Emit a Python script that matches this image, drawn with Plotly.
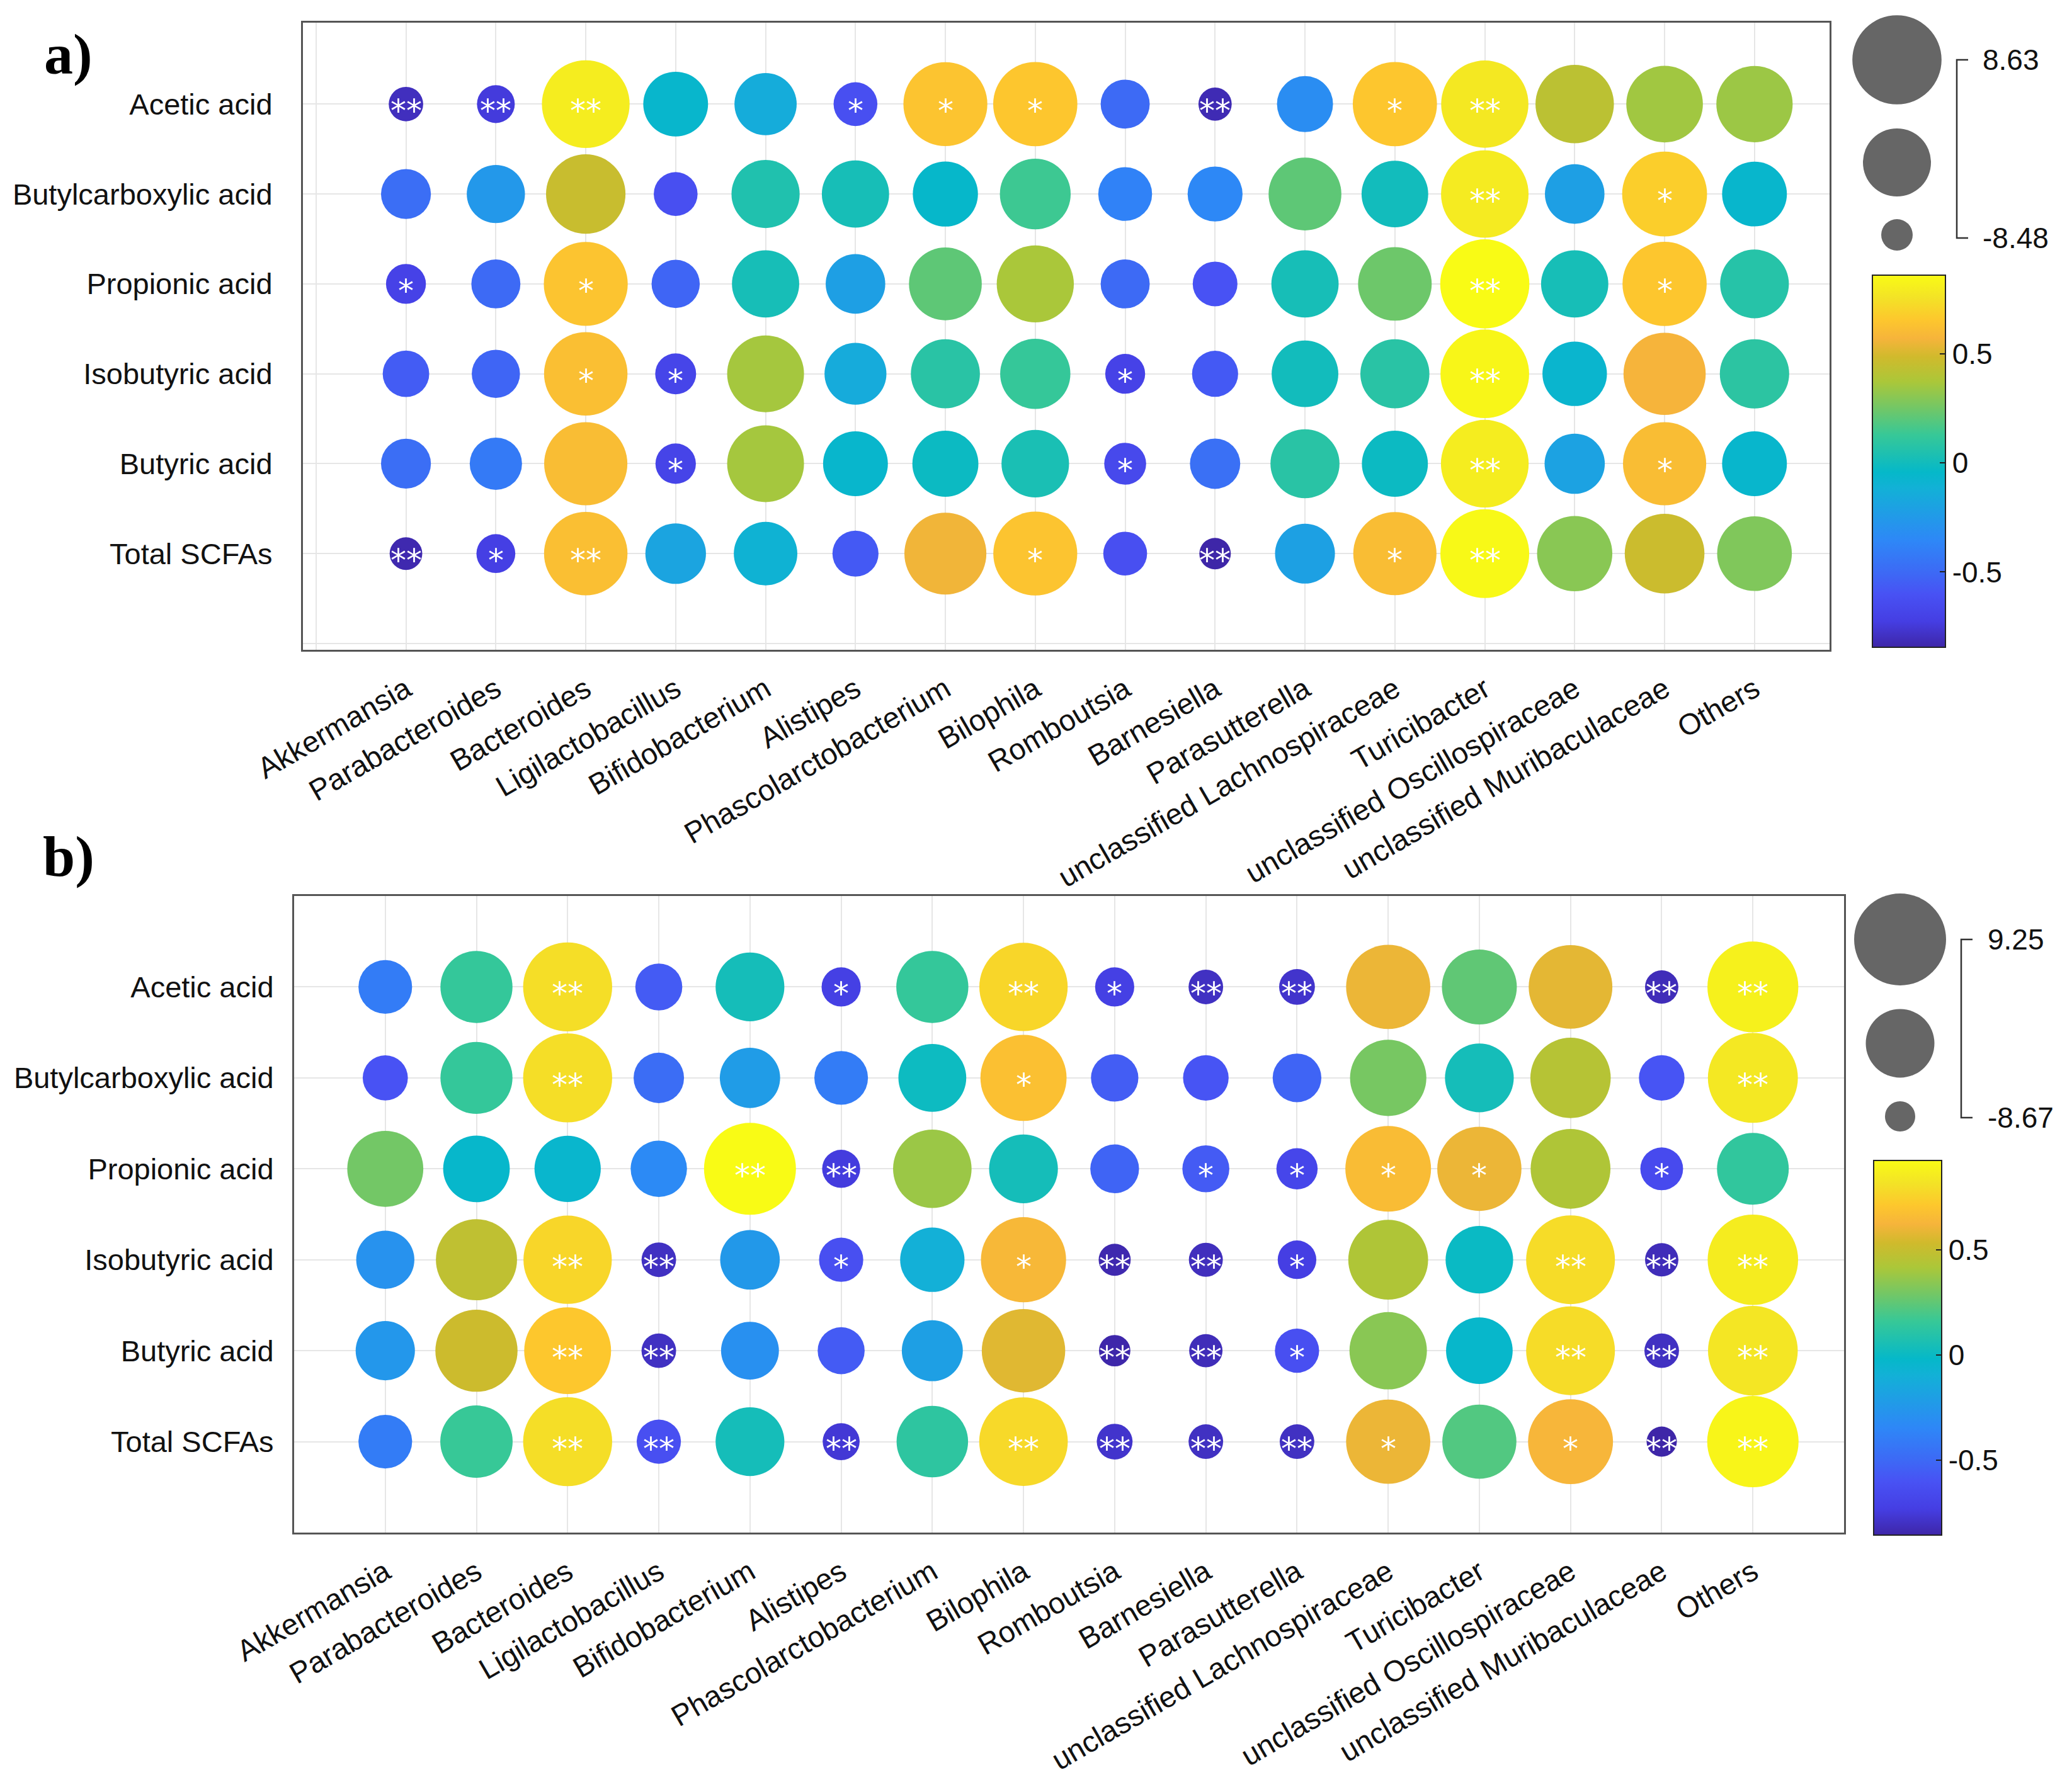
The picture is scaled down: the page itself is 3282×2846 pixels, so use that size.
import math
import plotly.graph_objects as go

W, H = 3282, 2846          # reference picture size
OFF = 8                    # default page margin of the html body
FW, FH = W - 2 * OFF, H - 2 * OFF

genera = ["Akkermansia", "Parabacteroides", "Bacteroides", "Ligilactobacillus",
          "Bifidobacterium", "Alistipes", "Phascolarctobacterium", "Bilophila",
          "Romboutsia", "Barnesiella", "Parasutterella", "unclassified Lachnospiraceae",
          "Turicibacter", "unclassified Oscillospiraceae", "unclassified Muribaculaceae",
          "Others"]
acids = ["Acetic acid", "Butylcarboxylic acid", "Propionic acid",
         "Isobutyric acid", "Butyric acid", "Total SCFAs"]

# ---- panel a: correlation coefficients (rows = acids, cols = genera)
corr_a = [
    [-0.80, -0.74, 0.80, -0.06, -0.14, -0.62, 0.64, 0.65, -0.50, -0.82, -0.32, 0.65, 0.78, 0.42, 0.35, 0.34],
    [-0.48, -0.26, 0.46, -0.62, 0.05, 0.02, -0.05, 0.14, -0.38, -0.35, 0.21, 0.00, 0.79, -0.22, 0.68, -0.06],
    [-0.70, -0.50, 0.64, -0.52, 0.02, -0.22, 0.21, 0.37, -0.50, -0.60, 0.02, 0.24, 0.863, 0.02, 0.65, 0.07],
    [-0.56, -0.52, 0.62, -0.68, 0.36, -0.15, 0.08, 0.12, -0.70, -0.57, 0.00, 0.08, 0.84, -0.07, 0.57, 0.09],
    [-0.48, -0.42, 0.61, -0.69, 0.36, -0.06, -0.02, 0.03, -0.66, -0.47, 0.08, -0.02, 0.80, -0.20, 0.61, -0.06],
    [-0.83, -0.72, 0.62, -0.19, -0.10, -0.57, 0.56, 0.64, -0.62, -0.848, -0.21, 0.61, 0.85, 0.30, 0.47, 0.28],
]
sig_a = [
    ["**", "**", "**", "", "", "*", "*", "*", "", "**", "", "*", "**", "", "", ""],
    ["", "", "", "", "", "", "", "", "", "", "", "", "**", "", "*", ""],
    ["*", "", "*", "", "", "", "", "", "", "", "", "", "**", "", "*", ""],
    ["", "", "*", "*", "", "", "", "", "*", "", "", "", "**", "", "", ""],
    ["", "", "", "*", "", "", "", "", "*", "", "", "", "**", "", "*", ""],
    ["**", "*", "**", "", "", "", "", "*", "", "**", "", "*", "**", "", "", ""],
]

# ---- panel b
corr_b = [
    [-0.40, 0.15, 0.80, -0.56, 0.04, -0.72, 0.15, 0.77, -0.72, -0.80, -0.78, 0.60, 0.25, 0.58, -0.82, 0.88],
    [-0.60, 0.15, 0.80, -0.48, -0.22, -0.40, 0.01, 0.68, -0.55, -0.59, -0.52, 0.30, 0.04, 0.45, -0.59, 0.84],
    [0.29, -0.03, -0.04, -0.33, 0.925, -0.74, 0.38, 0.04, -0.52, -0.56, -0.68, 0.66, 0.60, 0.43, -0.65, 0.14],
    [-0.28, 0.48, 0.77, -0.80, -0.24, -0.62, -0.10, 0.64, -0.84, -0.81, -0.73, 0.43, 0.00, 0.79, -0.82, 0.86],
    [-0.25, 0.52, 0.71, -0.80, -0.29, -0.56, -0.20, 0.57, -0.85, -0.82, -0.62, 0.34, -0.03, 0.79, -0.80, 0.83],
    [-0.40, 0.16, 0.80, -0.62, 0.04, -0.76, 0.13, 0.78, -0.78, -0.80, -0.80, 0.60, 0.22, 0.63, -0.867, 0.90],
]
sig_b = [
    ["", "", "**", "", "", "*", "", "**", "*", "**", "**", "", "", "", "**", "**"],
    ["", "", "**", "", "", "", "", "*", "", "", "", "", "", "", "", "**"],
    ["", "", "", "", "**", "**", "", "", "", "*", "*", "*", "*", "", "*", ""],
    ["", "", "**", "**", "", "*", "", "*", "**", "**", "*", "", "", "**", "**", "**"],
    ["", "", "**", "**", "", "", "", "", "**", "**", "*", "", "", "**", "**", "**"],
    ["", "", "**", "**", "", "**", "", "**", "**", "**", "**", "*", "", "*", "**", "**"],
]

size_labels_a = ["8.63", "-8.48"]
size_labels_b = ["9.25", "-8.67"]
cbar_ticks = [-0.5, 0, 0.5]

parula = [
    [0.000, "#3E26A8"], [0.070, "#453EE3"], [0.143, "#4852F4"], [0.200, "#3D69F5"],
    [0.286, "#2E87F7"], [0.429, "#12B1D6"], [0.470, "#05B8C9"], [0.571, "#37C897"],
    [0.640, "#70C768"], [0.714, "#ABC739"], [0.780, "#D0BA2C"], [0.830, "#F6B43B"],
    [0.880, "#FDC72D"], [0.940, "#F3E326"], [1.000, "#F9FB15"],
]

FONT = "Liberation Sans, Arial, sans-serif"
fig = go.Figure()
annotations = []
shapes = []


def fx(px):
    return (px - OFF) / FW


def fy(py):
    return 1 - (py - OFF) / FH


def diam(r, rmin, rmax, dmin, dmax):
    t = min(max((r - rmin) / (rmax - rmin), 0.0), 1.0)
    return math.sqrt(dmin ** 2 + (dmax ** 2 - dmin ** 2) * t)


def add_panel(corr, sig, xa, ya, cax, rng, dmin, dmax):
    xs, ys, cs, ss = [], [], [], []
    for i, row in enumerate(corr):
        for j, v in enumerate(row):
            xs.append(j + 1)
            ys.append(i + 1)
            cs.append(v)
            ss.append(diam(v, rng[0], rng[1], dmin, dmax))
            if sig[i][j]:
                annotations.append(dict(
                    x=j + 1, y=i + 1, xref=xa, yref=ya, text=sig[i][j], showarrow=False,
                    font=dict(family="DejaVu Sans", size=50, color="white"),
                    xanchor="center", yanchor="middle", yshift=-11))
    fig.add_trace(go.Scatter(
        x=xs, y=ys, mode="markers", xaxis=xa, yaxis=ya, hoverinfo="skip",
        marker=dict(size=ss, sizemode="diameter", color=cs, coloraxis=cax,
                    line=dict(width=0), opacity=1),
        showlegend=False))


add_panel(corr_a, sig_a, "x", "y", "coloraxis", (-0.848, 0.863), 50, 141.6)
add_panel(corr_b, sig_b, "x2", "y2", "coloraxis2", (-0.867, 0.925), 48, 146)


def size_legend(cx, ys, ds, bx, ytop, ybot, labels, lx):
    for y, d in zip(ys, ds):
        shapes.append(dict(type="circle", xref="paper", yref="paper",
                           x0=fx(cx - d / 2), x1=fx(cx + d / 2),
                           y0=fy(y + d / 2), y1=fy(y - d / 2),
                           fillcolor="#666666", line=dict(width=0)))
    shapes.append(dict(type="path", xref="paper", yref="paper",
                       path="M {a},{b} L {c},{b} L {c},{d} L {a},{d}".format(
                           a=fx(bx + 18), b=fy(ytop), c=fx(bx), d=fy(ybot)),
                       line=dict(color="#333333", width=2.5)))
    for lab, y in zip(labels, (ytop, ybot)):
        annotations.append(dict(x=fx(lx), y=fy(y), xref="paper", yref="paper",
                                text=lab, showarrow=False, xanchor="left", yanchor="middle",
                                font=dict(family=FONT, size=46, color="#111111")))


size_legend(3012, [95, 258, 373], [141.6, 108, 50], 3107, 95, 378, size_labels_a, 3146)
size_legend(3017, [1492, 1657, 1773], [146, 109, 48], 3114, 1492, 1775, size_labels_b, 3154)

annotations.append(dict(x=fx(68), y=fy(86), xref="paper", yref="paper", text="<b>a)</b>",
                        showarrow=False, xanchor="left", yanchor="middle",
                        font=dict(family="Liberation Serif, Times New Roman, serif", size=92, color="black")))
annotations.append(dict(x=fx(66), y=fy(1360), xref="paper", yref="paper", text="<b>b)</b>",
                        showarrow=False, xanchor="left", yanchor="middle",
                        font=dict(family="Liberation Serif, Times New Roman, serif", size=92, color="black")))


def xaxis(domain, rng, anchor):
    return dict(domain=domain, range=rng, anchor=anchor, automargin=False,
                tickvals=list(range(0, 18)), ticktext=[""] + genera + [""],
                tickangle=-30, showgrid=True, gridcolor="#E6E6E6", gridwidth=2,
                zeroline=False, showline=True, mirror=True, linecolor="#555555", linewidth=3,
                ticks="", tickfont=dict(family=FONT, size=47, color="#111111"),
                ticklabelstandoff=14)


def yaxis(domain, rng, anchor, standoff):
    return dict(domain=domain, range=rng, anchor=anchor, automargin=False,
                tickvals=list(range(0, 8)), ticktext=[""] + acids + [""],
                showgrid=True, gridcolor="#E6E6E6", gridwidth=2,
                zeroline=False, showline=True, mirror=True, linecolor="#555555", linewidth=3,
                ticks="", tickfont=dict(family=FONT, size=47, color="#111111"),
                ticklabelstandoff=standoff)


def cbar(x, yc, length, thick):
    return dict(x=fx(x), xanchor="left", y=fy(yc), yanchor="middle",
                len=length / FH, lenmode="fraction", thickness=thick, thicknessmode="pixels",
                xpad=0, ypad=0, outlinewidth=2, outlinecolor="#222222",
                tickvals=cbar_ticks, ticktext=[str(t) for t in cbar_ticks],
                ticks="inside", ticklen=10, tickcolor="#222222", tickwidth=2,
                tickfont=dict(family=FONT, size=46, color="#111111"))


fig.update_layout(
    width=FW, height=FH, margin=dict(l=0, r=0, t=0, b=0, autoexpand=False),
    paper_bgcolor="white", plot_bgcolor="white",
    xaxis=xaxis([fx(481), fx(2905)], [-0.146, 16.835], "y"),
    yaxis=yaxis([fy(1032), fy(36)], [7.07, 0.094], "x", 36),
    xaxis2=xaxis([fx(467), fx(2928)], [0, 17], "y2"),
    yaxis2=yaxis([fy(2434), fy(1423)], [7, 0], "x2", 20),
    coloraxis=dict(colorscale=parula, cmin=-0.845, cmax=0.86,
                   colorbar=cbar(2973, 732.5, 591, 116)),
    coloraxis2=dict(colorscale=parula, cmin=-0.855, cmax=0.925,
                    colorbar=cbar(2975, 2140.5, 595, 108)),
    annotations=annotations, shapes=shapes,
)

fig.write_html("out.html")
